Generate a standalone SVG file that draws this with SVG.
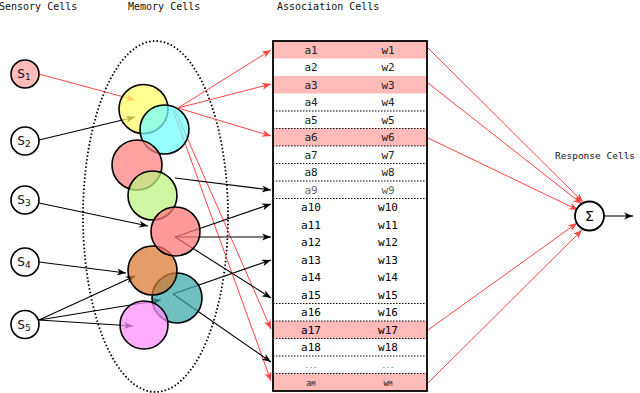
<svg xmlns="http://www.w3.org/2000/svg" width="640" height="393" viewBox="0 0 640 393">
<defs>
<marker id="ab" markerUnits="userSpaceOnUse" markerWidth="10" markerHeight="8" refX="9" refY="4" orient="auto"><path d="M0,0.5 L9,4 L0,7.5 L2.5,4 z" fill="#000"/></marker>
<marker id="ar" markerUnits="userSpaceOnUse" markerWidth="10" markerHeight="8" refX="9" refY="4" orient="auto"><path d="M0,0.5 L9,4 L0,7.5 L2.5,4 z" fill="#f44"/></marker>
</defs>
<style>
.hdr{font-family:"DejaVu Sans Mono","Liberation Mono",monospace;font-size:10px;fill:#111}
.cell{font-family:"DejaVu Sans Mono","Liberation Mono",monospace;font-size:11px;fill:#222;text-anchor:middle}
.sc circle{stroke:#000;stroke-width:1.6}
.slab{font-family:"DejaVu Sans","Liberation Sans",sans-serif;font-size:12px;fill:#111;text-anchor:middle}
.mem{stroke:#000;stroke-width:1.6;fill-opacity:0.72}
.bl{stroke:#000;stroke-width:1.1;fill:none;marker-end:url(#ab)}
.rd{stroke:#f44;stroke-width:1;fill:none;marker-end:url(#ar)}
.pink{fill:#ffbaba}
.sep{stroke:#000;stroke-width:1;stroke-dasharray:1.5,1.5}
</style>

<text class="hdr" x="-1" y="10">Sensory Cells</text>
<text class="hdr" x="128" y="10">Memory Cells</text>
<text class="hdr" x="277" y="10">Association Cells</text>
<text class="hdr" x="555" y="159" style="font-size:9.5px">Response Cells</text>

<ellipse id="memory-region" cx="155.5" cy="216.5" rx="72.5" ry="175.5" fill="none" stroke="#000" stroke-width="1.8" stroke-dasharray="1.5,2.2"/>

<g id="connectors">
<line class="rd" x1="39" y1="74" x2="135" y2="100"/>
<line class="bl" x1="39" y1="140" x2="135" y2="117"/>
<line class="bl" x1="39" y1="203" x2="148" y2="226"/>
<line class="bl" x1="39" y1="262" x2="126" y2="273"/>
<line class="bl" x1="39" y1="320" x2="135" y2="276"/>
<line class="bl" x1="39" y1="320" x2="161" y2="300"/>
<line class="bl" x1="39" y1="320" x2="133" y2="326"/>
<line class="rd" x1="178" y1="108" x2="271" y2="50"/>
<line class="rd" x1="178" y1="108" x2="271" y2="84"/>
<line class="rd" x1="178" y1="108" x2="271" y2="136"/>
<line class="rd" x1="175" y1="110" x2="271" y2="329"/>
<line class="rd" x1="173" y1="110" x2="271" y2="381"/>
<line class="bl" x1="175" y1="178" x2="271" y2="190"/>
<line class="bl" x1="175" y1="237" x2="271" y2="204"/>
<line class="bl" x1="175" y1="237" x2="271" y2="237" stroke-width="2"/>
<line class="bl" x1="175" y1="237" x2="271" y2="298"/>
<line class="bl" x1="173" y1="294" x2="271" y2="260"/>
<line class="bl" x1="173" y1="294" x2="271" y2="362"/>
<line class="rd" x1="428" y1="48" x2="583" y2="202"/>
<line class="rd" x1="428" y1="83" x2="582" y2="204"/>
<line class="rd" x1="428" y1="138" x2="578" y2="210"/>
<line class="rd" x1="428" y1="330" x2="577" y2="223"/>
<line class="rd" x1="428" y1="383" x2="582" y2="230"/>
<line class="bl" x1="604" y1="216" x2="633" y2="216"/>
</g>

<g id="sensory-cells" class="sc">
<g id="s1"><circle cx="25" cy="74" r="14" fill="#ffbaba"/><text class="slab" x="24" y="78">S<tspan font-size="9" dy="2">1</tspan></text></g>
<g id="s2"><circle cx="25" cy="141" r="14" fill="#fff"/><text class="slab" x="24" y="145">S<tspan font-size="9" dy="2">2</tspan></text></g>
<g id="s3"><circle cx="25" cy="200" r="14" fill="#fff"/><text class="slab" x="24" y="204">S<tspan font-size="9" dy="2">3</tspan></text></g>
<g id="s4"><circle cx="25" cy="262" r="14" fill="#fff"/><text class="slab" x="24" y="266">S<tspan font-size="9" dy="2">4</tspan></text></g>
<g id="s5"><circle cx="25" cy="324.5" r="14" fill="#fff"/><text class="slab" x="24" y="328.5">S<tspan font-size="9" dy="2">5</tspan></text></g>
</g>

<g id="memory-cells">
<circle id="m1" class="mem" cx="143.5" cy="109" r="24.5" fill="#ffff66"/>
<circle id="m2" class="mem" cx="164.5" cy="129.5" r="24.5" fill="#70ffff"/>
<circle id="m3" class="mem" cx="137" cy="165" r="25" fill="#ff7d7d"/>
<circle id="m4" class="mem" cx="152.5" cy="195.5" r="24.5" fill="#bbf37f"/>
<circle id="m7" class="mem" cx="177" cy="298" r="25" fill="#3aa8a8"/>
<circle id="m6" class="mem" cx="152.5" cy="270.5" r="24.5" fill="#d9772e"/>
<circle id="m5" class="mem" cx="175.5" cy="231.5" r="24.5" fill="#ff7373"/>
<circle id="m8" class="mem" cx="144" cy="325" r="24" fill="#ff8cff"/>
</g>

<g id="association-cells">
<rect x="273" y="41" width="154" height="17.5" class="pink"/>
<rect x="273" y="76" width="154" height="17.5" class="pink"/>
<rect x="273" y="128.5" width="154" height="17.5" class="pink"/>
<rect x="273" y="321" width="154" height="17.5" class="pink"/>
<rect x="273" y="373.5" width="154" height="17.5" class="pink"/>
<g>
<line class="sep" x1="273" y1="111" x2="427" y2="111"/>
<line class="sep" x1="273" y1="128.5" x2="427" y2="128.5"/>
<line class="sep" x1="273" y1="146" x2="427" y2="146"/>
<line class="sep" x1="273" y1="163.5" x2="427" y2="163.5"/>
<line class="sep" x1="273" y1="181" x2="427" y2="181"/>
<line class="sep" x1="273" y1="198.5" x2="427" y2="198.5"/>
<line class="sep" x1="273" y1="303.5" x2="427" y2="303.5"/>
<line class="sep" x1="273" y1="321" x2="427" y2="321"/>
<line class="sep" x1="273" y1="338.5" x2="427" y2="338.5"/>
<line class="sep" x1="273" y1="356" x2="427" y2="356"/>
<line class="sep" x1="273" y1="373.5" x2="427" y2="373.5"/>
</g>
<rect x="273" y="41" width="154" height="350" fill="none" stroke="#000" stroke-width="1.8"/>
<g>
<text class="cell" x="311" y="53.7">a1</text><text class="cell" x="388" y="53.7">w1</text>
<text class="cell" x="311" y="71.2">a2</text><text class="cell" x="388" y="71.2">w2</text>
<text class="cell" x="311" y="88.7">a3</text><text class="cell" x="388" y="88.7">w3</text>
<text class="cell" x="311" y="106.2">a4</text><text class="cell" x="388" y="106.2">w4</text>
<text class="cell" x="311" y="123.7">a5</text><text class="cell" x="388" y="123.7">w5</text>
<text class="cell" x="311" y="141.2">a6</text><text class="cell" x="388" y="141.2">w6</text>
<text class="cell" x="311" y="158.7">a7</text><text class="cell" x="388" y="158.7">w7</text>
<text class="cell" x="311" y="176.2">a8</text><text class="cell" x="388" y="176.2">w8</text>
<text class="cell" x="311" y="193.7" style="fill:#666">a9</text><text class="cell" x="388" y="193.7" style="fill:#666">w9</text>
<text class="cell" x="311" y="211.2" style="fill:#000">a10</text><text class="cell" x="388" y="211.2" style="fill:#000">w10</text>
<text class="cell" x="311" y="228.7" style="fill:#000">a11</text><text class="cell" x="388" y="228.7" style="fill:#000">w11</text>
<text class="cell" x="311" y="246.2" style="fill:#000">a12</text><text class="cell" x="388" y="246.2" style="fill:#000">w12</text>
<text class="cell" x="311" y="263.7" style="fill:#000">a13</text><text class="cell" x="388" y="263.7" style="fill:#000">w13</text>
<text class="cell" x="311" y="281.2" style="fill:#000">a14</text><text class="cell" x="388" y="281.2" style="fill:#000">w14</text>
<text class="cell" x="311" y="298.7" style="fill:#000">a15</text><text class="cell" x="388" y="298.7" style="fill:#000">w15</text>
<text class="cell" x="311" y="316.2" style="fill:#000">a16</text><text class="cell" x="388" y="316.2" style="fill:#000">w16</text>
<text class="cell" x="311" y="333.7" style="fill:#000">a17</text><text class="cell" x="388" y="333.7" style="fill:#000">w17</text>
<text class="cell" x="311" y="351.2" style="fill:#000">a18</text><text class="cell" x="388" y="351.2" style="fill:#000">w18</text>
<text class="cell" x="311" y="367.5" style="font-size:7px;fill:#555">...</text><text class="cell" x="388" y="367.5" style="font-size:7px;fill:#555">...</text>
<text class="cell" x="311" y="385.5" style="font-size:8px">a<tspan style="font-size:7px">M</tspan></text><text class="cell" x="388" y="385.5" style="font-size:8px">w<tspan style="font-size:7px">M</tspan></text>
</g>
</g>

<g id="response-cell">
<circle cx="589.5" cy="216" r="14.5" fill="#fff" stroke="#000" stroke-width="1.8"/>
<text x="589.5" y="221" text-anchor="middle" font-family="DejaVu Sans, sans-serif" font-size="14" fill="#000">Σ</text>
</g>
</svg>
